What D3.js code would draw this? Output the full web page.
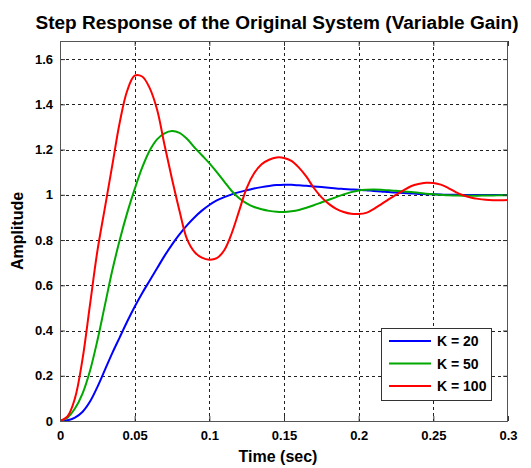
<!DOCTYPE html>
<html>
<head>
<meta charset="utf-8">
<script src="https://cdn.jsdelivr.net/npm/d3@7"></script>
<style>
  body { margin: 0; background: #fff; }
  text { font-family: "Liberation Sans", Arial, sans-serif; font-weight: bold; fill: #000; }
</style>
</head>
<body>
<svg id="chart" width="531" height="468"></svg>
<script>
// sample times (sec)
const time = d3.range(61).map(i => +(i * 0.005).toFixed(3))

// values, one per sample time
const k20 = [0, 0.003, 0.015, 0.04, 0.085, 0.15, 0.225, 0.3, 0.37, 0.44,
  0.505, 0.565, 0.62, 0.675, 0.73, 0.78, 0.825, 0.865, 0.9, 0.93,
  0.955, 0.975, 0.99, 1.002, 1.012, 1.02, 1.028, 1.034, 1.039, 1.043,
  1.045, 1.044, 1.042, 1.04, 1.037, 1.034, 1.031, 1.028, 1.026, 1.024,
  1.022, 1.02, 1.017, 1.015, 1.012, 1.01, 1.008, 1.006, 1.004, 1.003,
  1.002, 1.001, 1.0, 1.0, 0.999, 0.999, 0.999, 0.999, 0.999, 0.999, 0.999]
const k50 = [0, 0.015, 0.055, 0.12, 0.22, 0.355, 0.51, 0.665, 0.8, 0.92,
  1.025, 1.12, 1.195, 1.245, 1.272, 1.282, 1.274, 1.248, 1.21, 1.175,
  1.14, 1.1, 1.058, 1.017, 0.985, 0.962, 0.946, 0.936, 0.929, 0.925,
  0.924, 0.927, 0.933, 0.943, 0.954, 0.966, 0.978, 0.99, 1.002, 1.012,
  1.019, 1.022, 1.023, 1.022, 1.02, 1.018, 1.015, 1.012, 1.009, 1.005,
  1.002, 1.0, 0.998, 0.997, 0.996, 0.996, 0.996, 0.997, 0.997, 0.998, 0.998]
const k100 = [0, 0.02, 0.1, 0.27, 0.51, 0.75, 0.94, 1.13, 1.32, 1.46,
  1.527, 1.523, 1.473, 1.377, 1.22, 1.07, 0.93, 0.805, 0.748, 0.722,
  0.713, 0.72, 0.755, 0.83, 0.93, 1.03, 1.095, 1.135, 1.155, 1.165,
  1.163, 1.15, 1.12, 1.08, 1.03, 0.99, 0.96, 0.938, 0.924, 0.916,
  0.915, 0.92, 0.937, 0.958, 0.98, 1.0, 1.02, 1.038, 1.048, 1.053,
  1.052, 1.045, 1.03, 1.012, 0.998, 0.988, 0.982, 0.978, 0.976, 0.976, 0.977]

const seriesNames = ['K = 20', 'K = 50', 'K = 100']
const seriesColors = ['#0000ff', '#00a800', '#ff0000']
const seriesValues = [k20, k50, k100]

const xTicks = [0, 0.05, 0.1, 0.15, 0.2, 0.25, 0.3]
const xTickLabels = ['0', '0.05', '0.1', '0.15', '0.2', '0.25', '0.3']
const yTicks = [0, 0.2, 0.4, 0.6, 0.8, 1, 1.2, 1.4, 1.6]
const yTickLabels = ['0', '0.2', '0.4', '0.6', '0.8', '1', '1.2', '1.4', '1.6']

const plotLeft = 60, plotRight = 508, plotTop = 41, plotBottom = 421
const svg = d3.select('#chart')

const x = d3.scaleLinear().domain([0, 0.3]).range([plotLeft, plotRight])
const y = d3.scaleLinear().domain([0, 1.68]).range([plotBottom, plotTop])

// grid
const grid = svg.append('g').attr('stroke', '#222').attr('stroke-width', 1)
  .attr('stroke-dasharray', '3,3').attr('shape-rendering', 'crispEdges')
grid.selectAll('.gx').data(xTicks.slice(1, -1)).enter().append('line')
  .attr('x1', d => Math.round(x(d)) + 0.5).attr('x2', d => Math.round(x(d)) + 0.5)
  .attr('y1', plotTop).attr('y2', plotBottom)
grid.selectAll('.gy').data(yTicks.slice(1)).enter().append('line')
  .attr('y1', d => Math.round(y(d)) + 0.5).attr('y2', d => Math.round(y(d)) + 0.5)
  .attr('x1', plotLeft).attr('x2', plotRight)

// curves
svg.append('clipPath').attr('id', 'clip').append('rect')
  .attr('x', plotLeft).attr('y', plotTop).attr('width', plotRight - plotLeft).attr('height', plotBottom - plotTop)
const line = d3.line().x((d, i) => x(time[i])).y(d => y(d)).curve(d3.curveCatmullRom.alpha(0.5))
svg.append('g').attr('clip-path', 'url(#clip)')
  .selectAll('path').data(seriesValues).enter().append('path')
  .attr('d', line)
  .attr('fill', 'none')
  .attr('stroke', (d, i) => seriesColors[i])
  .attr('stroke-width', 2)

// axes, ticks inside like matlab
function styleAxis (g) {
  g.select('.domain').remove()
  g.selectAll('.tick line').attr('stroke', '#333')
  g.selectAll('.tick text').style('font-size', '13px').style('font-family', '"Liberation Sans", Arial, sans-serif').style('font-weight', 'bold')
}
svg.append('g').attr('transform', `translate(0,${plotBottom})`)
  .call(d3.axisBottom(x).tickValues(xTicks).tickFormat((d, i) => xTickLabels[i]).tickSize(-5).tickPadding(10))
  .call(styleAxis)
svg.append('g').attr('transform', `translate(0,${plotTop})`)
  .call(d3.axisTop(x).tickValues(xTicks).tickFormat('').tickSize(-5))
  .call(styleAxis)
svg.append('g').attr('transform', `translate(${plotLeft},0)`)
  .call(d3.axisLeft(y).tickValues(yTicks).tickFormat((d, i) => yTickLabels[i]).tickSize(-5).tickPadding(7))
  .call(styleAxis)
svg.append('g').attr('transform', `translate(${plotRight},0)`)
  .call(d3.axisRight(y).tickValues(yTicks).tickFormat('').tickSize(-5))
  .call(styleAxis)

svg.append('rect').attr('x', plotLeft + 0.5).attr('y', plotTop + 0.5)
  .attr('width', plotRight - plotLeft - 1).attr('height', plotBottom - plotTop)
  .attr('fill', 'none').attr('stroke', '#555').attr('shape-rendering', 'crispEdges')

// titles
svg.append('text').attr('x', 277).attr('y', 29).attr('text-anchor', 'middle')
  .style('font-size', '18px').attr('textLength', 483).attr('lengthAdjust', 'spacingAndGlyphs')
  .text('Step Response of the Original System (Variable Gain)')
svg.append('text').attr('x', 278).attr('y', 462).attr('text-anchor', 'middle')
  .style('font-size', '16px').text('Time (sec)')
svg.append('text').attr('transform', 'translate(23,231) rotate(-90)').attr('text-anchor', 'middle')
  .style('font-size', '16px').text('Amplitude')

// legend
const legend = svg.append('g')
legend.append('rect').attr('x', 381.5).attr('y', 328.5).attr('width', 110).attr('height', 72)
  .attr('fill', '#fff').attr('stroke', '#333')
const rows = legend.selectAll('.row').data(seriesNames).enter().append('g')
  .attr('transform', (d, i) => `translate(0,${341 + i * 22.5})`)
rows.append('line').attr('x1', 389).attr('x2', 431)
  .attr('stroke', (d, i) => seriesColors[i]).attr('stroke-width', 2)
rows.append('text').attr('x', 437).attr('dy', '0.36em').style('font-size', '14px').text(d => d)
</script>
</body>
</html>
